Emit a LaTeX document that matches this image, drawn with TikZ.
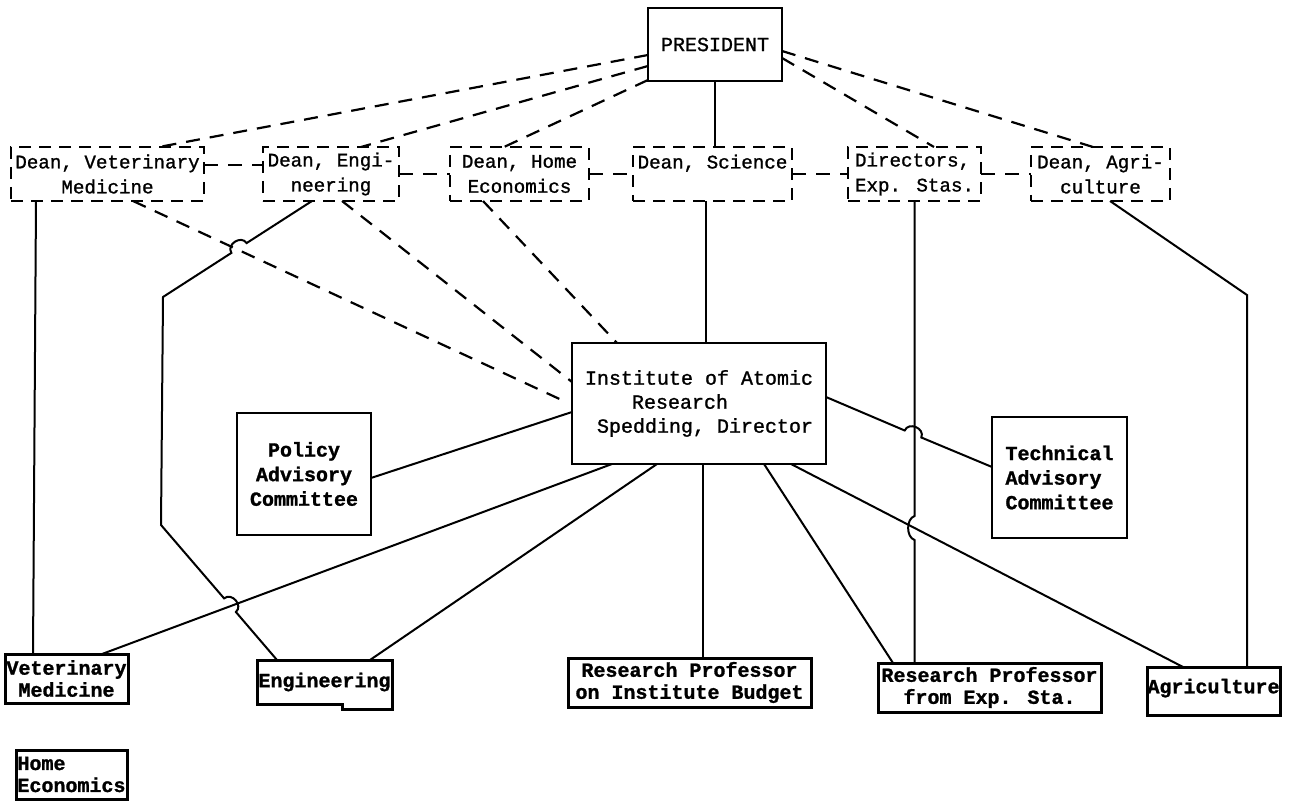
\documentclass[tikz,border=0pt]{standalone}
\usepackage{fontspec}
\setmainfont{Liberation Mono}[FakeBold=1.2]
\newfontfamily\medfont{Liberation Mono}[FakeBold=1.2]
\usetikzlibrary{calc}
\begin{document}
\begin{tikzpicture}[x=0.5pt,y=-0.5pt,
  sbox/.style={draw, line width=1.3pt, inner sep=0pt, outer sep=0pt, align=center, font=\medfont\fontsize{10}{12}\selectfont},
  cbox/.style={sbox, font=\bfseries\fontsize{10}{12.3}\selectfont},
  bbox/.style={sbox, line width=1.5pt, font=\bfseries\fontsize{10}{11}\selectfont},
  dbox/.style={draw, line width=1.1pt, dash pattern=on 6pt off 4pt, inner sep=0pt, outer sep=0pt, align=center, font=\medfont\fontsize{9.6}{12.5}\selectfont},
  conn/.style={line width=1pt},
  dconn/.style={line width=1.1pt, dash pattern=on 7pt off 5pt}]
\useasboundingbox (0,0) rectangle (1294,801);

% top
\node[sbox, minimum width=67pt, minimum height=36.5pt] (pres) at (715,44.5) {PRESIDENT};
\node[dbox, minimum width=96.5pt, minimum height=27pt] (dvet) at (107.5,174) {Dean, Veterinary\\Medicine};
\node[dbox, minimum width=68pt, minimum height=27pt] (deng) at (331,174) {Dean, Engi-\\neering};
\node[dbox, minimum width=69.5pt, minimum height=27pt] (dhome) at (519.5,174) {Dean, Home\\Economics};
\node[dbox, minimum width=79.5pt, minimum height=27pt] (dsci) at (712.5,174) {Dean, Science\\\mbox{}};
\node[dbox, align=left, minimum width=66.5pt, minimum height=27pt] (ddir) at (914.5,174) {Directors,\\Exp. Stas.};
\node[dbox, minimum width=69.5pt, minimum height=27pt] (dagri) at (1100.5,174) {Dean, Agri-\\culture};

% middle
\node[sbox, align=left, minimum width=127pt, minimum height=60.5pt] (inst) at (699,403.5)
  {Institute of Atomic\\\hspace*{23.5pt}Research\\\hspace*{6pt}Spedding, Director};
\node[cbox, minimum width=67pt, minimum height=61pt] (policy) at (304,474) {Policy\\Advisory\\Committee};
\node[cbox, align=left, minimum width=67.5pt, minimum height=60.5pt] (tech) at (1059.5,477.5) {Technical\\Advisory\\Committee};

% bottom
\node[bbox, minimum width=61.5pt, minimum height=24.5pt] (vetmed) at (66.5,678.5) {Veterinary\\Medicine};
\node[bbox, draw=none, minimum width=67.5pt, minimum height=22pt] (engb) at (324.5,682) {Engineering};
\draw[line width=1.5pt] (engb.north west) -- (engb.north east) -- ($(engb.south east)+(0,5)$)
  -- ($(engb.south west)+(85,5)$) -- ($(engb.south west)+(85,0)$) -- (engb.south west) -- cycle;
\node[bbox, minimum width=121.5pt, minimum height=24.5pt] (rpbud) at (689.5,682.5) {Research Professor\\on Institute Budget};
\node[bbox, minimum width=111.5pt, minimum height=24.5pt] (rpexp) at (989.5,687.5) {Research Professor\\from Exp. Sta.};
\node[bbox, minimum width=66.5pt, minimum height=24pt] (agrib) at (1213.5,691) {\raisebox{5pt}{Agriculture}};
\node[bbox, align=left, minimum width=55.5pt, minimum height=24.5pt] (homeb) at (71.5,774.5) {Home\\Economics};

% president links
\draw[dconn] ($(pres.north west)+(0,47)$) -- ($(dvet.north west)+(148,0)$);
\draw[dconn] ($(pres.north west)+(0,58)$) -- ($(deng.north west)+(98,0)$);
\draw[dconn] ($(pres.north west)+(0,72)$) -- ($(dhome.north west)+(54,0)$);
\draw[dconn] ($(pres.north east)+(0,50)$) -- ($(ddir.north west)+(86,0)$);
\draw[dconn] ($(pres.north east)+(0,43)$) -- ($(dagri.north west)+(62,0)$);
\draw[conn] (pres.south) -- (pres.south |- dsci.north);

% dean chain
\draw[dconn] ($(dvet.east)+(0,-9)$) -- ($(deng.west)+(0,-9)$);
\draw[dconn] (deng.east) -- (dhome.west);
\draw[dconn] (dhome.east) -- (dsci.west);
\draw[dconn] (dsci.east) -- (ddir.west);
\draw[dconn] (ddir.east) -- (dagri.west);

% deans to institute
\draw[dconn] ($(dvet.south west)+(122,0)$) -- ($(inst.north west)+(-6,59)$);
\draw[dconn] ($(deng.south west)+(79,0)$) -- ($(inst.north west)+(0,39)$);
\draw[dconn] ($(dhome.south west)+(33,0)$) -- ($(inst.north west)+(45,0)$);
\coordinate (sciin) at ($(inst.north)+(7,0)$);
\draw[conn] (sciin |- dsci.south) -- (sciin);

% long engineering path
\draw[conn] ($(deng.south west)+(49,0)$) -- (246.6,243.1)
  .. controls (241.2,234.7) and (226,244.5) .. (231.4,252.9)
  -- (163,297) -- (161,525) -- (224.1,598.4)
  .. controls (231.7,591.9) and (243.5,605.5) .. (235.9,612)
  -- ($(engb.north west)+(20,0)$);

% veterinary vertical
\draw[conn] ($(dvet.south west)+(25,0)$) -- ($(vetmed.north west)+(28,0)$);

% directors vertical with hop
\draw[conn] (ddir.south) -- (914.5,516) .. controls (906,519) and (906,537) .. (914.5,540) -- (ddir.south |- rpexp.north);

% agriculture path
\draw[conn] ($(dagri.south west)+(79,0)$) -- (1247,295) -- ($(agrib.north west)+(100,0)$);

% institute links
\draw[conn] ($(inst.north west)+(0,69)$) -- ($(policy.north east)+(0,65)$);
\draw[conn] ($(inst.north east)+(0,54)$) -- (904.7,430.5)
  .. controls (908.6,421.3) and (925.2,428.3) .. (921.3,437.5)
  -- ($(tech.north west)+(0,50)$);
\draw[conn] ($(inst.south west)+(40,0)$) -- ($(vetmed.north west)+(97,0)$);
\draw[conn] ($(inst.south west)+(85,0)$) -- ($(engb.north west)+(113,0)$);
\coordinate (bud) at ($(inst.south west)+(131,0)$);
\draw[conn] (bud) -- (bud |- rpbud.north);
\draw[conn] ($(inst.south west)+(192,0)$) -- ($(rpexp.north west)+(15,0)$);
\draw[conn] ($(inst.south west)+(219,0)$) -- ($(agrib.north west)+(36,0)$);
\end{tikzpicture}
\end{document}
